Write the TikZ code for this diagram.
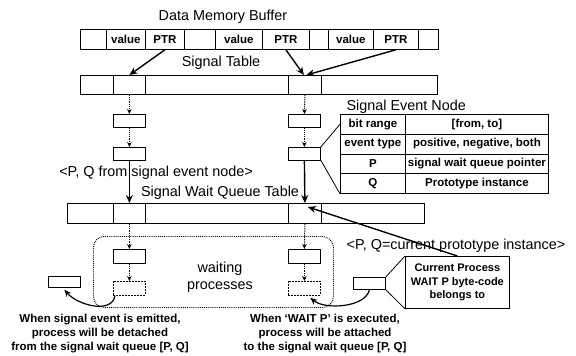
\documentclass[tikz,border=0pt]{standalone}
\usepackage{fontspec}
\setmainfont{Liberation Sans}
\usetikzlibrary{arrows.meta}

\newcommand{\titlefont}{\fontsize{14.4}{17}\selectfont}
\newcommand{\cellfont}{\bfseries\fontsize{11.5}{14}\selectfont}

\begin{document}
\begin{tikzpicture}[x=1pt,y=-1pt,
  cell/.style={draw, line width=0.8pt, anchor=north west, inner sep=0pt, font=\cellfont},
  qdash/.style={dash pattern=on 2pt off 1pt},
  ptr/.style={-{Stealth[length=8pt,width=7pt]}, line width=1.4pt},
  link/.style={dash pattern=on 1.2pt off 1pt, line width=1pt, -{Stealth[length=5pt,width=4.5pt]}},
  move/.style={line width=1.2pt, -{Stealth[length=7pt,width=6pt]}},
  callout/.style={line width=0.8pt}]

\useasboundingbox (0,0) rectangle (576,356);

% data memory buffer
\node[font=\titlefont] (dmbt) at (223,17) {Data Memory Buffer};
\foreach \n/\x/\w/\t in {b1/80/26/{}, b2/106/39/value, b3/145/39/PTR, b4/184/31/{}, b5/215/47/value, b6/262/47/PTR, b7/309/19/{}, b8/328/45/value, b9/373/45/PTR, b10/418/20/{}}
  \node[cell, minimum width=\w pt, minimum height=20pt] (\n) at (\x,29) {\t};

% signal table
\node[font=\titlefont] (stt) at (221,63) {Signal Table};
\foreach \n/\x/\w in {s1/80/33, s2/113/32, s3/145/143, s4/288/33, s5/321/116}
  \node[cell, minimum width=\w pt, minimum height=19pt] (\n) at (\x,75) {};

% signal event nodes
\foreach \n/\x/\y in {e1/113/114, e2/113/147, e3/288/114, e4/288/147}
  \node[cell, minimum width=32pt, minimum height=12.5pt] (\n) at (\x,\y) {};

\node[font=\titlefont, anchor=west] (sent) at (343,107) {Signal Event Node};
\foreach \k/\a/\b in {1/bit range/{[from, to]}, 2/event type/{positive, negative, both}, 3/P/signal wait queue pointer, 4/Q/Prototype instance} {
  \node[cell, minimum width=65pt, minimum height=19.75pt] (ta\k) at (340,{114+(\k-1)*19.75}) {\a};
  \node[cell, minimum width=143pt, minimum height=19.75pt] (tb\k) at (405,{114+(\k-1)*19.75}) {\b};
}

% signal wait queue table
\node[font=\titlefont] (pqs) at (156,173) {<P, Q from signal event node>};
\node[font=\titlefont] (swqt) at (220,193) {Signal Wait Queue Table};
\foreach \n/\x/\w in {w1/67/46, w2/113/32, w3/145/143, w4/288/33, w5/321/103}
  \node[cell, minimum width=\w pt, minimum height=20pt] (\n) at (\x,203) {};

% waiting processes
\node[draw, densely dotted, line width=0.9pt, rounded corners=11pt, anchor=north west,
  minimum width=240pt, minimum height=71pt] (wait) at (93,236) {};
\node[font=\titlefont, align=center] (wpt) at (220,277) {waiting\\processes};
\foreach \n/\x/\y/\s in {q1/113/249/solid, q2/113/281/qdash, q3/288/249/solid, q4/288/281/qdash}
  \node[cell, \s, minimum width=32pt, minimum height=14pt] (\n) at (\x,\y) {};

\node[cell, minimum width=32pt, minimum height=11pt] (det) at (48,276) {};
\node[cell, minimum width=32pt, minimum height=12pt] (cur) at (353,277) {};
\node[cell, minimum width=104pt, minimum height=52pt, align=center,
  font=\bfseries\fontsize{11}{13.3}\selectfont] (curp) at (405,256) {Current Process\\WAIT P byte-code\\belongs to};
\node[font=\titlefont] (pqc) at (456,246) {<P, Q=current prototype instance>};

\node[font=\cellfont, align=center] (detx) at (100,334) {When signal event is emitted,\\process will be detached\\from the signal wait queue [P, Q]};
\node[font=\cellfont, align=center] (attx) at (325,334) {When ‘WAIT P’ is executed,\\process will be attached\\to the signal wait queue [P, Q]};

% connectors
\draw[ptr] (b3.south) -- (s2.north);
\draw[ptr] (b6.south) -- ([xshift=-1pt]s4.north);
\draw[ptr] (b9.south) -- ([xshift=1.5pt]s4.north);
\foreach \u/\v in {s2/e1, e1/e2, s4/e3, e3/e4, w2/q1, q1/q2, w4/q3, q3/q4}
  \draw[link] (\u.south) -- (\v.north);
\draw[ptr] (e2.south) -- (w2.north);
\draw[ptr] (e4.south) -- (w4.north);
\draw[ptr] (curp.north) -- ([shift={(3,4)}]w4.north);

\draw[callout] (e4.north east) -- (ta1.west);
\draw[callout] (e4.south east) -- (ta4.south west);
\draw[callout] (cur.north east) -- (curp.north west);
\draw[callout] (cur.south east) -- (curp.south west);

\draw[move] ([xshift=2pt]q2.south west) .. controls +(-3,18) and +(14,16) .. ([yshift=-2pt]det.south);
\draw[move] (cur.south) .. controls +(-4,18) and +(14,12) .. ([xshift=6pt,yshift=-2pt]q4.south);

\end{tikzpicture}
\end{document}
